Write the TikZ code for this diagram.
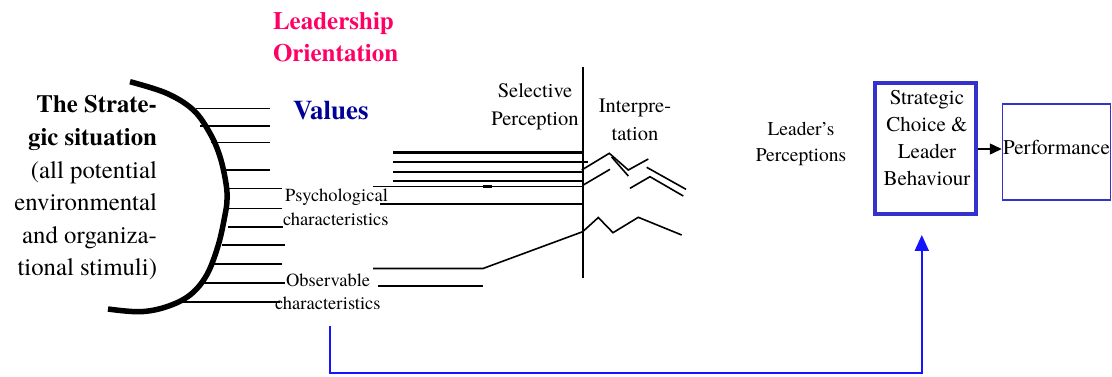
\documentclass[tikz,border=0pt]{standalone}
\usepackage{fontspec}
\IfFontExistsTF{texgyretermes-regular.otf}
  {\setmainfont{texgyretermes-regular.otf}[BoldFont=texgyretermes-bold.otf,ItalicFont=texgyretermes-italic.otf]}
  {}
\usetikzlibrary{arrows.meta}
\definecolor{pinkc}{RGB}{255,0,102}
\definecolor{navyc}{RGB}{0,0,153}
\definecolor{boxblue}{RGB}{51,51,204}
\definecolor{fbblue}{RGB}{20,20,255}
\begin{document}
\begin{tikzpicture}[x=1pt,y=-1pt,
  ln/.style={line width=1.6pt,black},
  txt/.style={inner sep=0pt,outer sep=0pt},
  fnbig/.style={font=\fontsize{24.8}{32.6}\selectfont},
  fnmid/.style={font=\fontsize{20.5}{28}\selectfont},
  fnsmall/.style={font=\fontsize{18.5}{22}\selectfont},
  fbline/.style={draw=fbblue,line width=2pt},
]
\useasboundingbox (0,0) rectangle (1112,376);
% texts
\node[txt,fnbig,align=right,anchor=east] (sit) at (157,188)
  {\textbf{The Strate-}\\\textbf{gic situation}\\(all potential\\environmental\\and organiza-\\tional stimuli)};
\node[txt,font=\bfseries\fontsize{25}{32}\selectfont,text=pinkc,align=left,anchor=west] (lo) at (273,37)
  {Leadership\\Orientation};
\node[txt,font=\bfseries\fontsize{27}{30}\selectfont,text=navyc,anchor=base west] (val) at (293,119) {Values};
\node[txt,fnmid,align=center] (sel) at (535,107) {Selective\\Perception};
\node[txt,fnmid,align=center] (int) at (635,120) {Interpre-\\tation};
\node[txt,font=\fontsize{19.5}{26}\selectfont,align=center] (lp) at (801,144) {Leader’s\\Perceptions};
\node[txt,fnsmall,anchor=base west] (psy1) at (285,201) {Psychological};
\node[txt,fnsmall,anchor=base west] (psy2) at (283,225) {characteristics};
\node[txt,fnsmall,anchor=base west] (obs1) at (286,286) {Observable};
\node[txt,fnsmall,anchor=base west] (obs2) at (275,309) {characteristics};
% boxes
\node[draw=boxblue,line width=4pt,minimum width=101pt,minimum height=131.3pt,inner sep=0pt] (strat) at (925.8,148.3) {};
\node[txt,font=\fontsize{21}{26.7}\selectfont,align=center] (stratlbl) at (927,138) {Strategic\\Choice \&\\Leader\\Behaviour};
\node[draw=boxblue,line width=1.5pt,minimum width=108pt,minimum height=96pt,inner sep=0pt] (perf) at (1056.5,152) {};
\node[txt,font=\fontsize{21}{26}\selectfont] (perflbl) at (1056.5,147) {Performance};
% connectors
\draw[line width=1.5pt,-{Triangle[length=12pt,width=11pt]}] (strat.east |- 0,149) -- (perf.west |- 0,149);
\coordinate (fbs) at (330,326);
\coordinate (fbc) at (330,373);
\draw[fbline,-{Triangle[length=16pt,width=14pt]},shorten >=19pt] (fbs) -- (fbc) -| ([xshift=-4pt]strat.south);
% the arc
\draw[line width=5.5pt] plot[smooth,tension=0.6] coordinates {(130,81.7) (166.7,93.3) (193.3,110) (210,133.3) (220,156.7) (226,183.3) (227,200) (225,215) (218.3,245) (206.7,275) (190,295) (166.7,306.7) (140,311.7) (108,309)};
% stimulus lines
\draw[ln] (196,108.3) -- (270,108.3);
\draw[ln] (200,126) -- (270,126);
\draw[ln] (211,142.5) -- (270,142.5);
\draw[ln] (224,170) -- (270,170);
\draw[ln] (227,188.5) -- (282,188.5);
\draw[ln] (228,208.3) -- (282,208.3);
\draw[ln] (228,226.7) -- (283,226.7);
\draw[ln] (222,245) -- (285,245);
\draw[ln] (213,264) -- (282,264);
\draw[ln] (200,282.7) -- (285,282.7);
\draw[ln] (178,301.7) -- (280,301.7);
% middle lines
\draw[ln,line width=2.6pt] (393,152.7) -- (582,152.7);
\draw[ln] (393,161.7) -- (588,161.7);
\draw[ln] (393,171.7) -- (582,171.7);
\draw[ln] (393,180.7) -- (582,180.7);
\draw[ln] (373,186.5) -- (583,186.5);
\draw[line width=2.6pt] (483,186.5) -- (492,186.5);
\draw[ln] (380,204) -- (583,204);
\draw[ln] (583,67) -- (583,278);
% zigzags
\draw[ln] (581.7,170) -- (609.3,153.3) -- (628.3,170) -- (648.3,159);
\draw[ln] (611.7,157) -- (628.3,176);
\draw[ln] (646.7,167.3) -- (686,189.3);
\draw[ln] (630,188.3) -- (650,176.7) -- (683.3,196);
\draw[ln] (583.3,185) -- (610,169.3);
\draw[ln] (373,268.5) -- (483,268.5) -- (582.7,231.7) -- (598.3,217.5) -- (613,232.7) -- (638.3,217.3) -- (681.7,235);
\draw[ln] (378,286) -- (483,286);
\end{tikzpicture}
\end{document}
